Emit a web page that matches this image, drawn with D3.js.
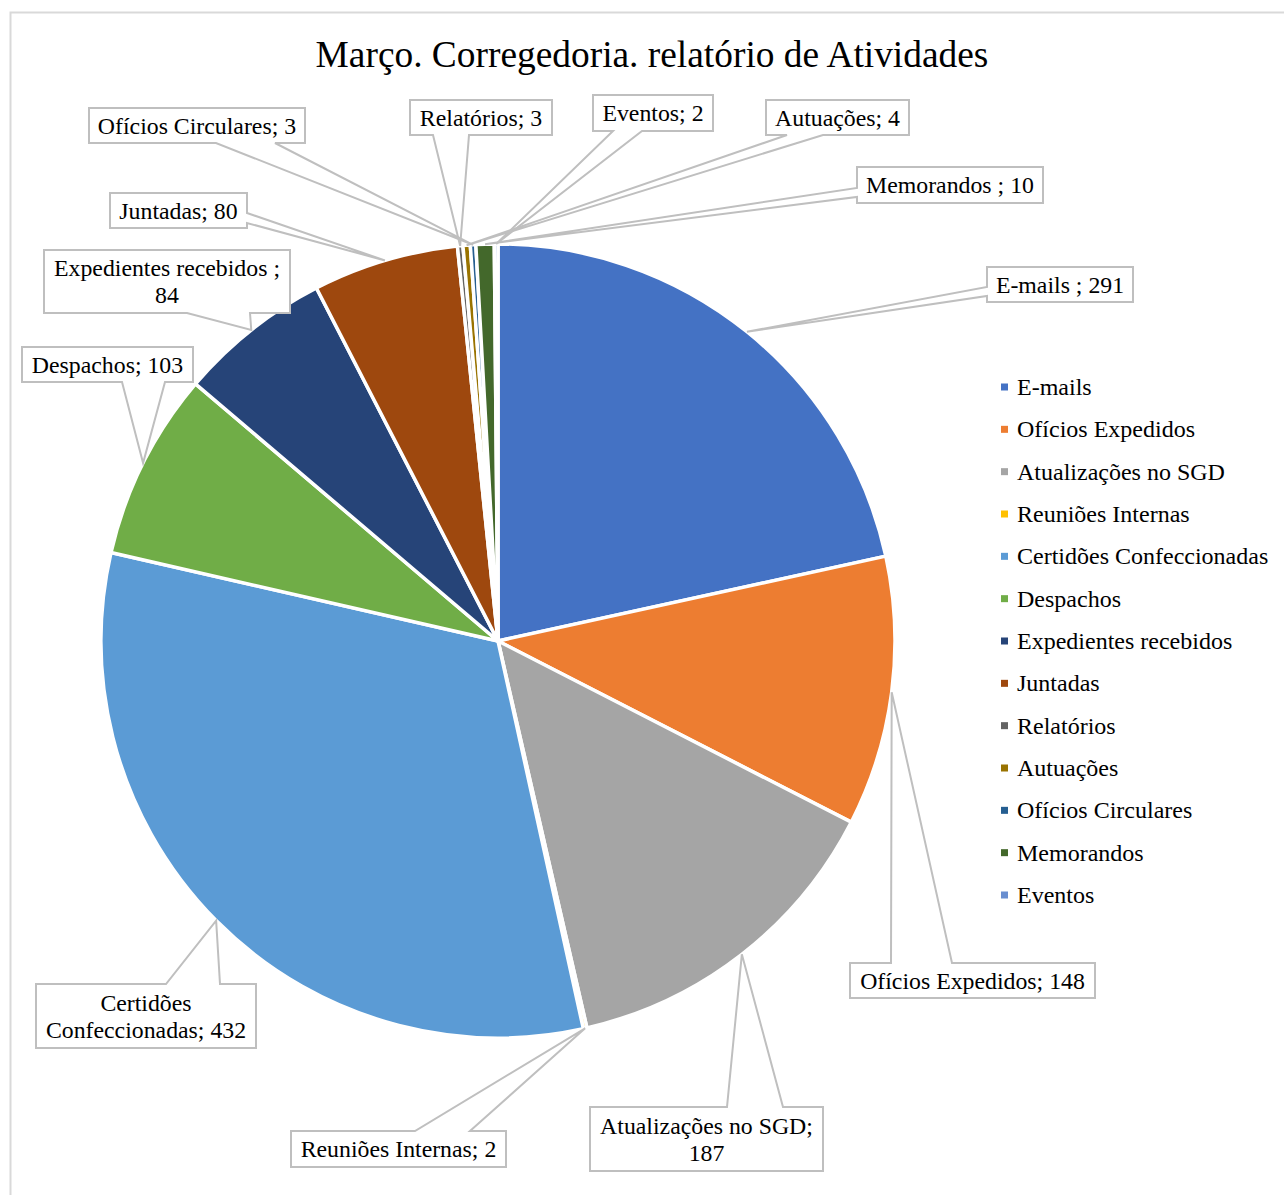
<!DOCTYPE html>
<html lang="pt">
<head>
    <meta charset="UTF-8">
    <title>Março. Corregedoria. relatório de Atividades</title>
    <script src="https://d3js.org/d3.v7.min.js"></script>
    <style>
        body {
            margin: 0;
            background-color: #ffffff;
            font-family: 'Liberation Serif', 'Times New Roman', serif;
        }

        svg {
            display: block;
        }

        .title {
            font-size: 37.4px;
            fill: #000;
            text-anchor: middle;
        }

        .callout text {
            font-size: 23.8px;
            fill: #000;
            text-anchor: middle;
        }

        .legend text {
            font-size: 24px;
            fill: #000;
        }
    </style>
</head>
<body>
    <svg width="1284" height="1195"></svg>

    <script>
        const categories = [
            'E-mails', 'Ofícios Expedidos', 'Atualizações no SGD', 'Reuniões Internas',
            'Certidões Confeccionadas', 'Despachos', 'Expedientes recebidos', 'Juntadas',
            'Relatórios', 'Autuações', 'Ofícios Circulares', 'Memorandos', 'Eventos'
        ];
        const values = [291, 148, 187, 2, 432, 103, 84, 80, 3, 4, 3, 10, 2];
        const colors = [
            '#4472C4', '#ED7D31', '#A5A5A5', '#FFC000', '#5B9BD5', '#70AD47', '#264478',
            '#9E480E', '#636363', '#997300', '#255E91', '#43682B', '#698ED0'
        ];
        // label text as shown in the callouts (line breaks as in the picture)
        const labelLines = [
            ['E-mails ; 291'], ['Ofícios Expedidos; 148'], ['Atualizações no SGD;', '187'],
            ['Reuniões Internas; 2'], ['Certidões', 'Confeccionadas; 432'], ['Despachos; 103'],
            ['Expedientes recebidos ;', '84'], ['Juntadas; 80'], ['Relatórios; 3'],
            ['Autuações; 4'], ['Ofícios Circulares; 3'], ['Memorandos ; 10'], ['Eventos; 2']
        ];

        // callout boxes: [x, y, w, h] and the two base points of the wedge
        const calloutLayout = [
            { box: [987, 267, 146, 35], side: 'left', base: [287, 296] },
            { box: [850, 963, 245, 35], side: 'top', base: [891, 952] },
            { box: [590, 1107, 233, 64], side: 'top', base: [727, 783] },
            { box: [291, 1131, 215, 36], side: 'top', base: [415, 470] },
            { box: [36, 984, 220, 64], side: 'top', base: [166, 220] },
            { box: [22, 347, 171, 35], side: 'bottom', base: [122, 165] },
            { box: [44, 250, 246, 63], side: 'bottom', base: [187, 250] },
            { box: [110, 193, 137, 35], side: 'right', base: [213, 223] },
            { box: [410, 100, 142, 35], side: 'bottom', base: [433, 469] },
            { box: [766, 100, 143, 35], side: 'bottom', base: [787, 823] },
            { box: [89, 108, 216, 35], side: 'bottom', base: [216, 275] },
            { box: [857, 167, 186, 36], side: 'left', base: [188, 197] },
            { box: [593, 95, 120, 36], side: 'bottom', base: [613, 642] }
        ];

        const data = categories.map((c, i) => ({ name: c, value: values[i], color: colors[i], i }));

        const svg = d3.select('svg');
        const cx = 498, cy = 641, radius = 397;

        // chart area border
        svg.append('rect')
            .attr('x', 10.5)
            .attr('y', 12.5)
            .attr('width', 1300)
            .attr('height', 1200)
            .attr('fill', 'none')
            .attr('stroke', '#D9D9D9')
            .attr('stroke-width', 2);

        svg.append('text')
            .attr('class', 'title')
            .attr('x', 652)
            .attr('y', 67)
            .text('Março. Corregedoria. relatório de Atividades');

        const pie = d3.pie().sort(null).value(d => d.value);
        const arcs = pie(data);
        const arc = d3.arc().innerRadius(0).outerRadius(radius);
        const edgeArc = d3.arc().innerRadius(radius).outerRadius(radius);

        const g = svg.append('g').attr('transform', `translate(${cx},${cy})`);

        g.selectAll('path.slice')
            .data(arcs)
            .enter().append('path')
            .attr('class', 'slice')
            .attr('d', arc)
            .attr('fill', d => d.data.color)
            .attr('stroke', '#fff')
            .attr('stroke-width', 3.5)
            .attr('stroke-linejoin', 'round');

        // callout shape: box outline with a wedge going to the slice edge
        function calloutPath(lay, tip) {
            const [x, y, w, h] = lay.box;
            const [b1, b2] = lay.base;
            let pts;
            if (lay.side === 'top') {
                pts = [[x, y], [b1, y], tip, [b2, y], [x + w, y], [x + w, y + h], [x, y + h]];
            } else if (lay.side === 'bottom') {
                pts = [[x, y], [x + w, y], [x + w, y + h], [b2, y + h], tip, [b1, y + h], [x, y + h]];
            } else if (lay.side === 'left') {
                pts = [[x, y], [x + w, y], [x + w, y + h], [x, y + h], [x, b2], tip, [x, b1]];
            } else {
                pts = [[x, y], [x + w, y], [x + w, b1], tip, [x + w, b2], [x + w, y + h], [x, y + h]];
            }
            return 'M' + pts.map(p => p.join(',')).join('L') + 'Z';
        }

        const callouts = arcs.map(a => {
            const c = edgeArc.centroid(a);
            return { a, tip: [cx + c[0], cy + c[1]], lay: calloutLayout[a.data.i] };
        });

        const cg = svg.append('g').attr('class', 'callout');

        // fills first, so no callout hides another callout's line
        cg.selectAll('path.fill')
            .data(callouts)
            .enter().append('path')
            .attr('class', 'fill')
            .attr('d', d => calloutPath(d.lay, d.tip))
            .attr('fill', '#fff');

        cg.selectAll('path.line')
            .data(callouts)
            .enter().append('path')
            .attr('class', 'line')
            .attr('d', d => calloutPath(d.lay, d.tip))
            .attr('fill', 'none')
            .attr('stroke', '#BFBFBF')
            .attr('stroke-width', 2);

        cg.selectAll('text')
            .data(callouts)
            .enter().append('text')
            .attr('x', d => d.lay.box[0] + d.lay.box[2] / 2)
            .attr('y', d => {
                const lines = labelLines[d.a.data.i].length;
                return d.lay.box[1] + d.lay.box[3] / 2 - (lines - 1) * 13.5 + 8;
            })
            .each(function (d) {
                const t = d3.select(this);
                labelLines[d.a.data.i].forEach((s, k) => {
                    t.append('tspan')
                        .attr('x', d.lay.box[0] + d.lay.box[2] / 2)
                        .attr('dy', k === 0 ? 0 : 27)
                        .text(s);
                });
            });

        // legend
        const legendY = d3.scalePoint()
            .domain(categories)
            .range([387, 895]);

        const lg = svg.append('g').attr('class', 'legend');
        const item = lg.selectAll('g')
            .data(data)
            .enter().append('g')
            .attr('transform', d => `translate(1001,${legendY(d.name)})`);

        item.append('rect')
            .attr('x', 0)
            .attr('y', -3.5)
            .attr('width', 7)
            .attr('height', 7)
            .attr('fill', d => d.color);

        item.append('text')
            .attr('x', 16)
            .attr('y', 8)
            .text(d => d.name);
    </script>
</body>
</html>
